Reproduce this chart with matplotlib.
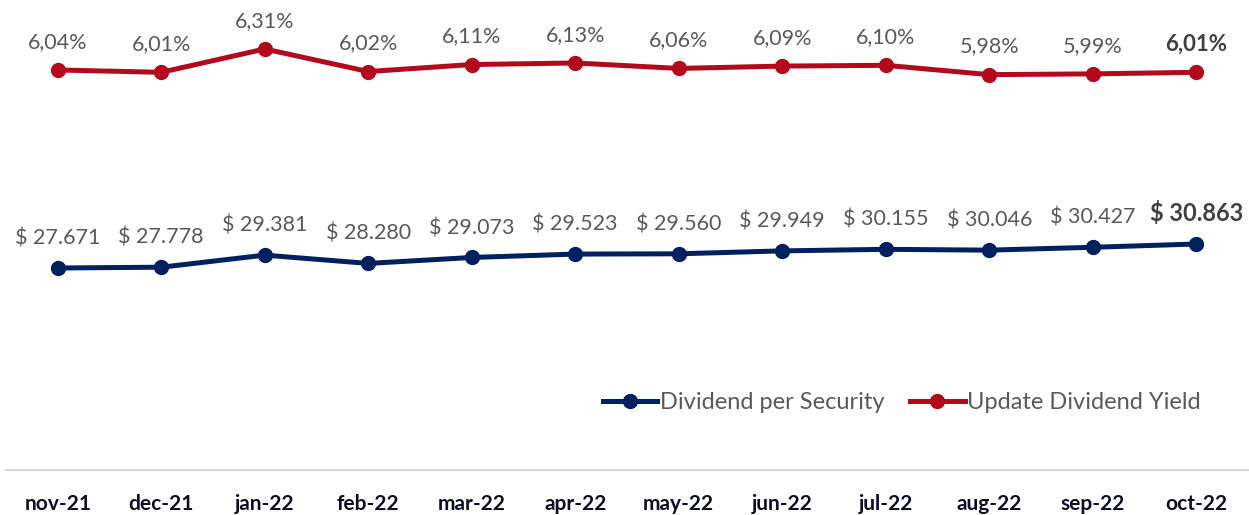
import matplotlib.pyplot as plt
from matplotlib.lines import Line2D

months = ['nov-21', 'dec-21', 'jan-22', 'feb-22', 'mar-22', 'apr-22',
          'may-22', 'jun-22', 'jul-22', 'aug-22', 'sep-22', 'oct-22']
dividend = [27.671, 27.778, 29.381, 28.280, 29.073, 29.523,
            29.560, 29.949, 30.155, 30.046, 30.427, 30.863]
yield_pct = [6.04, 6.01, 6.31, 6.02, 6.11, 6.13,
             6.06, 6.09, 6.10, 5.98, 5.99, 6.01]

navy = '#002060'
red = '#B20A1C'
gray = '#595959'

plt.rcParams['font.family'] = ['Lato', 'DejaVu Sans']

fig = plt.figure(figsize=(12.49, 5.15), dpi=100)
ax = fig.add_axes([6 / 1249, 1 - 470 / 515, 1242 / 1249, 460 / 515])
ax2 = ax.twinx()

x = list(range(len(months)))
ax.plot(x, dividend, color=navy, lw=3.6, marker='o', ms=10, zorder=3)
ax2.plot(x, yield_pct, color=red, lw=3.6, marker='o', ms=10, zorder=3)

ax.set_ylim(0.81, 61.98)
ax2.set_ylim(0.898, 6.811)
ax.set_xlim(-0.5, 11.5)

for i, v in enumerate(dividend):
    txt = '$ ' + f'{v:.3f}'
    last = i == len(dividend) - 1
    ax.annotate(txt, (i, v), xytext=(0, 14), textcoords='offset points',
                ha='center', va='bottom', fontsize=17 if last else 15.5,
                fontweight='bold' if last else 'normal',
                color='#404040' if last else gray)

for i, v in enumerate(yield_pct):
    txt = f'{v:.2f}'.replace('.', ',') + '%'
    last = i == len(yield_pct) - 1
    ax2.annotate(txt, (i, v), xytext=(0, 13), textcoords='offset points',
                 ha='center', va='bottom', fontsize=16 if last else 15.5,
                 fontweight='bold' if last else 'normal',
                 color='#404040' if last else gray)

ax.set_xticks(x)
ax.set_xticklabels(months, fontsize=15, fontweight='bold', color='#0D0D26')
ax.tick_params(axis='x', length=0, pad=17)
ax.set_yticks([])
ax2.set_yticks([])
for a in (ax, ax2):
    for s in ('top', 'left', 'right'):
        a.spines[s].set_visible(False)
    a.spines['bottom'].set_color('#D9D9D9')
    a.spines['bottom'].set_linewidth(1.5)

handles = [Line2D([], [], color=navy, lw=3.6, marker='o', ms=10),
           Line2D([], [], color=red, lw=3.6, marker='o', ms=10)]
fig.legend(handles, ['Dividend per Security', 'Update Dividend Yield'],
           loc='center', bbox_to_anchor=(0.722, 0.2175), ncol=2, frameon=False,
           fontsize=17, labelcolor=gray, handlelength=2.3, handletextpad=0.1,
           columnspacing=1.1)

fig.savefig('out.png', dpi=100)
